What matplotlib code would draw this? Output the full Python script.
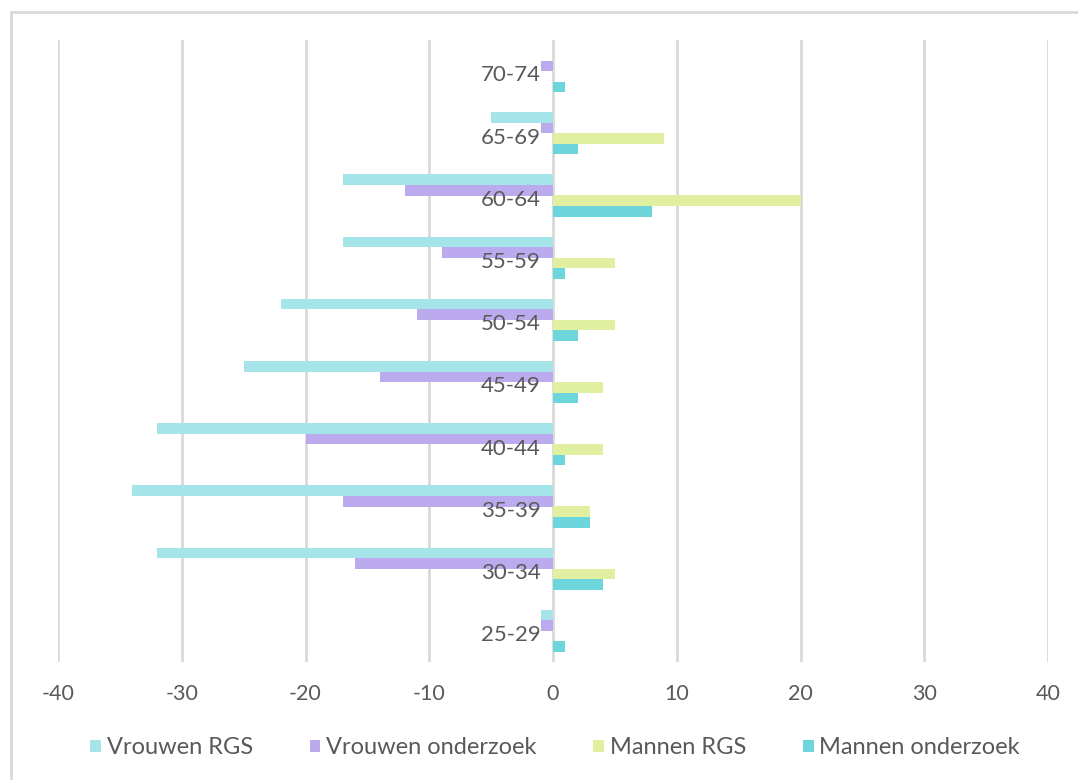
import numpy as np
import matplotlib.pyplot as plt
from matplotlib.patches import Rectangle

# Age groups, bottom to top
ages = ['25-29', '30-34', '35-39', '40-44', '45-49',
        '50-54', '55-59', '60-64', '65-69', '70-74']

vrouwen_rgs = [-1, -32, -34, -32, -25, -22, -17, -17, -5, 0]
vrouwen_onderzoek = [-1, -16, -17, -20, -14, -11, -9, -12, -1, -1]
mannen_rgs = [0, 5, 3, 4, 4, 5, 5, 20, 9, 0]
mannen_onderzoek = [1, 4, 3, 1, 2, 2, 1, 8, 2, 1]

series = [
    ('Vrouwen RGS', vrouwen_rgs, '#a5e4e8'),
    ('Vrouwen onderzoek', vrouwen_onderzoek, '#bbaaee'),
    ('Mannen RGS', mannen_rgs, '#e0efa0'),
    ('Mannen onderzoek', mannen_onderzoek, '#6cd6dc'),
]

plt.rcParams['font.family'] = ['Lato', 'DejaVu Sans']
plt.rcParams['axes.unicode_minus'] = False
text_col = '#595959'
grid_col = '#d9d9d9'

fig = plt.figure(figsize=(10.78, 7.80), dpi=100)
ax = fig.add_axes([58 / 1078, 1 - 662 / 780, 990 / 1078, 622 / 780])

y = np.arange(len(ages))
h = 0.17
offsets = [1.5 * h, 0.5 * h, -0.5 * h, -1.5 * h]
for (name, vals, col), off in zip(series, offsets):
    ax.barh(y + off, vals, height=h, color=col, label=name, zorder=3)

ax.set_xlim(-40, 40)
ax.set_ylim(-0.5, len(ages) - 0.5)
ax.set_xticks(np.arange(-40, 41, 10))
ax.set_yticks([])
ax.grid(axis='x', color=grid_col, linewidth=2, zorder=0)
for s in ax.spines.values():
    s.set_visible(False)
ax.tick_params(axis='x', length=0, pad=16, labelsize=15.5, labelcolor=text_col)

# category labels sit beside the zero line, a touch below the group centre
for yi, lab in zip(y, ages):
    ax.text(-1.0, yi - 0.07, lab, ha='right', va='center', fontsize=16,
            color=text_col, zorder=4)

leg = fig.legend(loc='center', bbox_to_anchor=(0.515, 1 - 748 / 780), ncol=4,
                 frameon=False, fontsize=17, handlelength=0.45,
                 handleheight=0.45, handletextpad=0.25, columnspacing=2.4)
for t in leg.get_texts():
    t.set_color(text_col)

# outer chart border
fig.patches.append(Rectangle((11 / 1078, -0.1), 1.2, 1 - 12 / 780 + 0.1,
                             transform=fig.transFigure, fill=False,
                             edgecolor=grid_col, linewidth=2))

fig.savefig('out.png', dpi=100)
